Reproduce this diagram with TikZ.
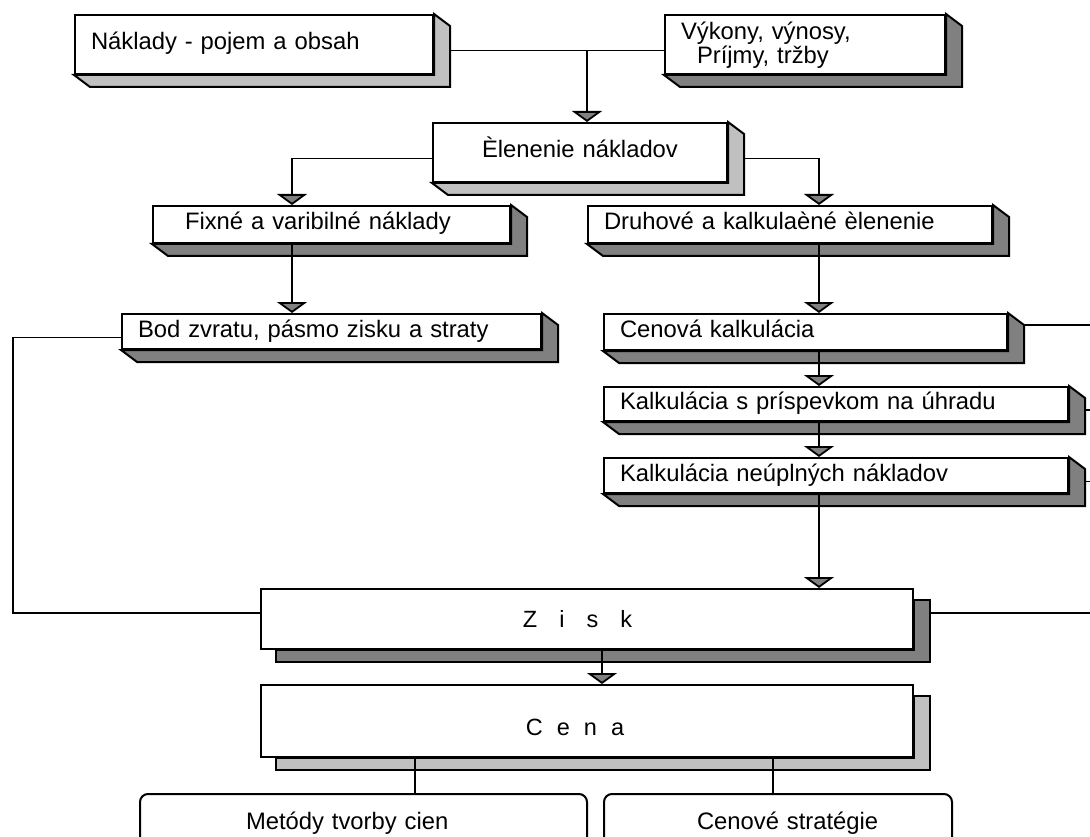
\documentclass[tikz,border=0pt]{standalone}
\usepackage{fontspec}
\setmainfont{Liberation Sans}
\usetikzlibrary{arrows.meta, calc}
\definecolor{lgry}{HTML}{C0C0C0}
\definecolor{dgry}{HTML}{808080}
\tikzset{
  box/.style    = {rectangle, draw, fill=white, line width=2pt,
                   inner xsep=16pt, inner ysep=0pt, anchor=north west,
                   align=left, font=\fontsize{23.8pt}{24pt}\selectfont},
  one/.style    = {text height=17pt, text depth=6pt},
  bigbox/.style = {rectangle, draw, fill=white, line width=2pt,
                   inner sep=0pt, anchor=north west, minimum width=652pt,
                   text depth=0pt, font=\fontsize{23.5pt}{24pt}\selectfont},
  endbox/.style = {box, rounded corners=8pt, minimum height=60pt,
                   text height=10pt, text depth=0pt},
  cast/.style   = {fill=#1, draw, line width=2pt},
  ln/.style     = {line width=1.8pt},
  arr/.style    = {ln, -{Triangle[width=30pt, length=11pt, fill=dgry]}},
}
\begin{document}
\begin{tikzpicture}[x=1pt, y=-1pt]
  \useasboundingbox (0,0) rectangle (1090,837);
  \clip (0,0) rectangle (1090,837);

  % drop lines and page rims
  \coordinate (axM)  at (587,0);
  \coordinate (axL)  at (292,0);
  \coordinate (axR)  at (819,0);
  \coordinate (axC)  at (602,0);
  \coordinate (axB1) at (415,0);
  \coordinate (axB2) at (773,0);
  \coordinate (rimL) at (13,0);
  \coordinate (rimR) at (1090,0);

  \node[box, one, text width=326pt, minimum height=59pt] (nakl) at (74,14)
    {Náklady - pojem a obsah};
  \node[box, text height=17pt, text depth=26pt, text width=248pt,
        minimum height=59pt] (vyk) at (664,14)
    {Výkony, výnosy,\\\hspace*{16pt}Príjmy, tržby};
  \node[box, one, align=center, text width=262pt, minimum height=59pt] (clen)
    at (432,122) {Èlenenie nákladov};
  \node[box, one, inner xsep=32pt, text width=293pt, minimum height=37pt] (fix)
    at (152,205) {Fixné a varibilné náklady};
  \node[box, one, text width=372pt, minimum height=37pt] (druh) at (587,205)
    {Druhové a kalkulaèné èlenenie};
  \node[box, one, text width=387pt, minimum height=35pt] (bod) at (121,313)
    {Bod zvratu, pásmo zisku a straty};
  \node[box, one, text width=371pt, minimum height=36pt] (cenk) at (603,313)
    {Cenová kalkulácia};
  \node[box, one, text width=432pt, minimum height=34pt] (kps) at (603,386)
    {Kalkulácia s príspevkom na úhradu};
  \node[box, one, text width=432pt, minimum height=35pt] (kn) at (603,457)
    {Kalkulácia neúplných nákladov};
  \node[bigbox, text height=16pt, minimum height=60pt] (zisk) at (260,588)
    {Z\hspace{22pt}i\hspace{22pt}s\hspace{22pt}k\hspace*{19pt}};
  \node[bigbox, text height=28pt, minimum height=72pt] (cena) at (260,684)
    {C\hspace{14pt}e\hspace{14pt}n\hspace{14pt}a\hspace*{24pt}};
  \node[endbox, text width=415pt] (met) at (139,793)
    {\hspace*{90pt}Metódy tvorby cien};
  \node[endbox, text width=316pt] (cstr) at (603,793)
    {\hspace*{77pt}Cenové stratégie};

  % bevelled shadows
  \foreach \n/\c in {nakl/lgry, vyk/dgry, clen/lgry, fix/dgry, druh/dgry,
                     bod/dgry, cenk/dgry, kps/dgry, kn/dgry}
    \draw[cast=\c] (\n.south west) -- ++(16,12) -- ($(\n.south east)+(16,12)$)
      -- ($(\n.north east)+(16,12)$) -- (\n.north east) -- (\n.south east) -- cycle;
  % flat shadows
  \foreach \n/\c in {zisk/dgry, cena/lgry}
    \draw[cast=\c] ($(\n.south west)+(16,0)$) -- ++(0,12)
      -- ($(\n.south east)+(16,12)$) -- ($(\n.north east)+(16,12)$)
      -- ++(-16,0) -- (\n.south east) -- cycle;

  \path ($(nakl.east)+(16,6)$) coordinate (nk);
  \draw[ln] (nk) -- (vyk.west |- nk);
  \draw[arr] (axM |- nk) -- (axM |- clen.north);
  \draw[arr] ($(clen.west)+(0,6)$) -| (axL |- fix.north);
  \draw[arr] ($(clen.east)+(16,6)$) -| (axR |- druh.north);
  \draw[arr] (axL |- fix.south) -- (axL |- bod.north);
  \foreach \a/\b in {druh/cenk, cenk/kps, kps/kn, kn/zisk}
    \draw[arr] (axR |- \a.south) -- (axR |- \b.north);
  \draw[arr] (axC |- zisk.south) -- (axC |- cena.north);
  \foreach \x/\b in {axB1/met, axB2/cstr}
    \draw[ln] (\x |- cena.south) -- (\x |- \b.north);

  % side loops
  \path ($(zisk.west)+(0,-6)$) coordinate (zw);
  \draw[ln] ($(bod.west)+(0,6)$) -| (rimL |- zw) -- (zw);
  \path ($(cenk.north east)+(16,12)$) coordinate (c1);
  \draw[ln] (c1) -- (c1 -| rimR);
  \foreach \n/\dy in {kps/6, kn/6, zisk/-6} {
    \path ($(\n.east)+(16,\dy)$) coordinate (q);
    \draw[ln] (q) -- (q -| rimR);
  }
\end{tikzpicture}
\end{document}
